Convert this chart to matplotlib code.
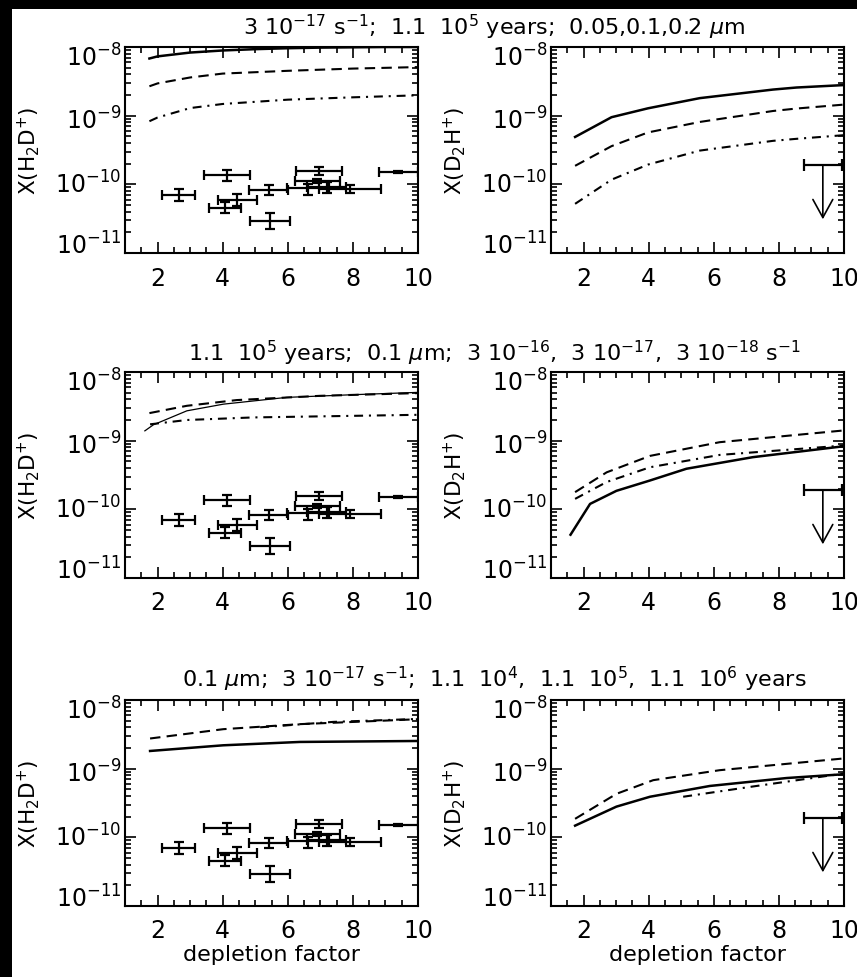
import matplotlib
matplotlib.use('Agg')
import matplotlib.pyplot as plt
from matplotlib.patches import Rectangle
from matplotlib.ticker import MultipleLocator, LogLocator, NullFormatter, FixedLocator, FixedFormatter

plt.rcParams['font.family'] = 'DejaVu Sans'
plt.rcParams['mathtext.fontset'] = 'dejavusans'

# observed H2D+ abundances (same in every left panel)
obs_x = [2.65, 4.14, 4.45, 4.07, 5.42, 5.45, 6.96, 6.63, 6.91, 7.19, 7.91, 9.40]
obs_xerr = [0.50, 0.70, 0.60, 0.50, 0.60, 0.61, 0.70, 0.64, 0.69, 0.60, 0.95, 0.60]
obs_y = [7.0e-11, 1.37e-10, 6.0e-11, 4.5e-11, 8.4e-11, 2.9e-11, 1.55e-10, 8.8e-11, 1.10e-10, 9.1e-11, 8.6e-11, 1.50e-10]
obs_ylo = [5.7e-11, 1.11e-10, 4.9e-11, 3.8e-11, 7.1e-11, 2.25e-11, 1.38e-10, 7.1e-11, 1.03e-10, 7.5e-11, 7.5e-11, 1.46e-10]
obs_yhi = [8.6e-11, 1.64e-10, 7.2e-11, 5.5e-11, 9.8e-11, 3.8e-11, 1.78e-10, 1.02e-10, 1.18e-10, 1.08e-10, 9.8e-11, 1.54e-10]

# D2H+ upper limit
lim_x, lim_xerr, lim_y, lim_arrow_end = 9.35, 0.58, 1.9e-10, 3.1e-11

# row 1: grain size 0.05, 0.1, 0.2 um
r1_h2d_x = [1.75, 2, 3, 4, 5, 6, 7, 8, 9, 10]
r1_h2d_solid = [6.8e-9, 7.3e-9, 8.3e-9, 8.9e-9, 9.3e-9, 9.6e-9, 9.8e-9, 9.9e-9, 1.0e-8, 1.0e-8]
r1_h2d_x2 = [1.75, 2, 3, 4, 6, 8, 10]
r1_h2d_dash = [2.68e-9, 2.95e-9, 3.6e-9, 4.1e-9, 4.5e-9, 4.85e-9, 5.1e-9]
r1_h2d_dashdot = [8.3e-10, 9.4e-10, 1.29e-9, 1.48e-9, 1.71e-9, 1.85e-9, 1.98e-9]

r1_d2h_x = [1.74, 2.86, 3.98, 5.57, 7.82, 8.54, 10]
r1_d2h_solid = [4.9e-10, 9.5e-10, 1.28e-9, 1.8e-9, 2.4e-9, 2.57e-9, 2.79e-9]
r1_d2h_dash = [1.86e-10, 3.6e-10, 5.7e-10, 8.1e-10, 1.17e-9, 1.27e-9, 1.45e-9]
r1_d2h_dashdot = [5.2e-11, 1.17e-10, 1.94e-10, 3.1e-10, 4.3e-10, 4.6e-10, 5.2e-10]

# row 2: cosmic ray rates 3e-16, 3e-17, 3e-18 s^-1
r2_h2d_x = [1.61, 1.87, 2.9, 4.02, 5.97, 8.0, 10]
r2_h2d_solid = [1.39e-9, 1.7e-9, 2.72e-9, 3.4e-9, 4.27e-9, 4.67e-9, 5.05e-9]
r2_h2d_x2 = [1.75, 2.9, 4.43, 7.0, 10]
r2_h2d_dash = [2.52e-9, 3.22e-9, 3.9e-9, 4.5e-9, 4.93e-9]
r2_h2d_x3 = [1.77, 2.9, 4.94, 10]
r2_h2d_dashdot = [1.73e-9, 2.0e-9, 2.18e-9, 2.38e-9]

r2_d2h_x = [1.6, 2.2, 3.01, 4.04, 5.16, 7.2, 10]
r2_d2h_solid = [4.27e-11, 1.2e-10, 1.86e-10, 2.63e-10, 3.9e-10, 5.75e-10, 8.3e-10]
r2_d2h_x2 = [1.74, 2.71, 4.04, 6.18, 10]
r2_d2h_dash = [1.78e-10, 3.46e-10, 6.0e-10, 9.5e-10, 1.41e-9]
r2_d2h_dashdot = [1.42e-10, 2.5e-10, 4.1e-10, 6.2e-10, 8.5e-10]

# row 3: ages 1.1e4, 1.1e5, 1.1e6 years
r3_h2d_x = [1.77, 4.02, 6.37, 10]
r3_h2d_solid = [1.81e-9, 2.19e-9, 2.45e-9, 2.53e-9]
r3_h2d_dash = [2.75e-9, 3.76e-9, 4.45e-9, 5.25e-9]
r3_h2d_x3 = [5.15, 7.4, 10]
r3_h2d_dashdot = [4.0e-9, 4.8e-9, 5.3e-9]

r3_d2h_x = [1.74, 3.01, 4.04, 5.88, 8.23, 10]
r3_d2h_solid = [1.48e-10, 2.8e-10, 3.9e-10, 5.6e-10, 7.3e-10, 8.3e-10]
r3_d2h_x2 = [1.74, 3.01, 4.14, 6.18, 10]
r3_d2h_dash = [1.86e-10, 4.3e-10, 6.8e-10, 9.5e-10, 1.41e-9]
r3_d2h_x3 = [5.06, 7.2, 10]
r3_d2h_dashdot = [3.9e-10, 5.5e-10, 8.5e-10]

titles = [
    r'3 10$^{-17}$ s$^{-1}$;  1.1  10$^{5}$ years;  0.05,0.1,0.2 $\mu$m',
    r'1.1  10$^{5}$ years;  0.1 $\mu$m;  3 10$^{-16}$,  3 10$^{-17}$,  3 10$^{-18}$ s$^{-1}$',
    r'0.1 $\mu$m;  3 10$^{-17}$ s$^{-1}$;  1.1  10$^{4}$,  1.1  10$^{5}$,  1.1  10$^{6}$ years',
]
title_y = [1 - 35 / 978, 1 - 361 / 978, 1 - 687 / 978]

ytick_vals = [1e-8, 1e-9, 1e-10, 1e-11]
ytick_text = [r'10$^{-8}$', r'10$^{-9}$', r'10$^{-10}$', r'10$^{-11}$']
ytick_pos = [0.952, 0.647, 0.335, 0.037]  # label centres, axes fraction

DASH = (0, (5, 3))
DASHDOT = (0, (4.3, 2.8, 1, 2.8))

W, H = 857, 978
fig = plt.figure(figsize=(W / 100, H / 100), dpi=100)
fig.patch.set_facecolor('black')
fig.add_artist(Rectangle((12 / W, 0), 1, 1 - 10 / H, transform=fig.transFigure,
                         facecolor='white', edgecolor='none', zorder=-5))

col_left = [125 / W, 551 / W]
row_top = [48, 373, 701]
aw, ah = 293 / W, 206 / H


def style(ax, ylabel, xlabel=False):
    ax.set_yscale('log')
    ax.set_xlim(1, 10)
    ax.set_ylim(1e-11, 1e-8)
    ax.xaxis.set_major_locator(FixedLocator([2, 4, 6, 8, 10]))
    ax.xaxis.set_major_formatter(FixedFormatter(['2', '4', '6', '8', '10']))
    ax.xaxis.set_minor_locator(MultipleLocator(0.5))
    ax.yaxis.set_major_locator(FixedLocator(ytick_vals))
    ax.yaxis.set_major_formatter(NullFormatter())
    ax.yaxis.set_minor_locator(LogLocator(base=10, subs=range(2, 10), numticks=10))
    ax.yaxis.set_minor_formatter(NullFormatter())
    ax.tick_params(which='both', direction='in', top=True, right=True, width=1.2)
    ax.tick_params(which='major', length=8)
    ax.tick_params(which='minor', length=4)
    ax.tick_params(axis='x', which='major', labelsize=17, pad=9)
    for s in ax.spines.values():
        s.set_linewidth(1.5)
    for pos, txt in zip(ytick_pos, ytick_text):
        ax.text(-0.012, pos, txt, transform=ax.transAxes, ha='right', va='center', fontsize=17)
    ax.set_ylabel(ylabel, fontsize=15.5)
    ax.yaxis.set_label_coords(-0.283, 0.5)
    if xlabel:
        ax.set_xlabel('depletion factor', fontsize=16, labelpad=1)


def obs(ax):
    yerr = [[y - lo for y, lo in zip(obs_y, obs_ylo)], [hi - y for y, hi in zip(obs_y, obs_yhi)]]
    ax.errorbar(obs_x, obs_y, xerr=obs_xerr, yerr=yerr, fmt='none', ecolor='black',
                elinewidth=1.6, capsize=3.5, capthick=1.6)


def limit(ax):
    ax.errorbar([lim_x], [lim_y], xerr=[lim_xerr], fmt='none', ecolor='black',
                elinewidth=1.6, capsize=4, capthick=1.6)
    ax.annotate('', xy=(lim_x, lim_arrow_end), xytext=(lim_x, lim_y),
                arrowprops=dict(arrowstyle='->,head_length=1.0,head_width=0.55',
                                mutation_scale=13, color='black', lw=1.2,
                                shrinkA=0, shrinkB=0))


rows = [
    ((r1_h2d_x, r1_h2d_solid, r1_h2d_x2, r1_h2d_dash, r1_h2d_x2, r1_h2d_dashdot, 1.8),
     (r1_d2h_x, r1_d2h_solid, r1_d2h_x, r1_d2h_dash, r1_d2h_x, r1_d2h_dashdot)),
    ((r2_h2d_x, r2_h2d_solid, r2_h2d_x2, r2_h2d_dash, r2_h2d_x3, r2_h2d_dashdot, 0.9),
     (r2_d2h_x, r2_d2h_solid, r2_d2h_x2, r2_d2h_dash, r2_d2h_x2, r2_d2h_dashdot)),
    ((r3_h2d_x, r3_h2d_solid, r3_h2d_x, r3_h2d_dash, r3_h2d_x3, r3_h2d_dashdot, 1.8),
     (r3_d2h_x, r3_d2h_solid, r3_d2h_x2, r3_d2h_dash, r3_d2h_x3, r3_d2h_dashdot)),
]

for i, (left, right) in enumerate(rows):
    bottom = 1 - (row_top[i] + 206) / H
    last = i == 2

    ax = fig.add_axes([col_left[0], bottom, aw, ah])
    xs, ys, xd, yd, xdd, ydd, lw = left
    ax.plot(xs, ys, color='black', lw=lw)
    ax.plot(xd, yd, color='black', lw=1.5, linestyle=DASH)
    ax.plot(xdd, ydd, color='black', lw=1.5, linestyle=DASHDOT)
    obs(ax)
    style(ax, r'X(H$_2$D$^{+}$)', last)

    ax = fig.add_axes([col_left[1], bottom, aw, ah])
    xs, ys, xd, yd, xdd, ydd = right
    ax.plot(xs, ys, color='black', lw=1.8)
    ax.plot(xd, yd, color='black', lw=1.5, linestyle=DASH)
    ax.plot(xdd, ydd, color='black', lw=1.5, linestyle=DASHDOT)
    limit(ax)
    style(ax, r'X(D$_2$H$^{+}$)', last)

    fig.text(494 / W, title_y[i], titles[i], ha='center', va='baseline', fontsize=16)

fig.savefig('out.png', dpi=100, facecolor=fig.get_facecolor())
